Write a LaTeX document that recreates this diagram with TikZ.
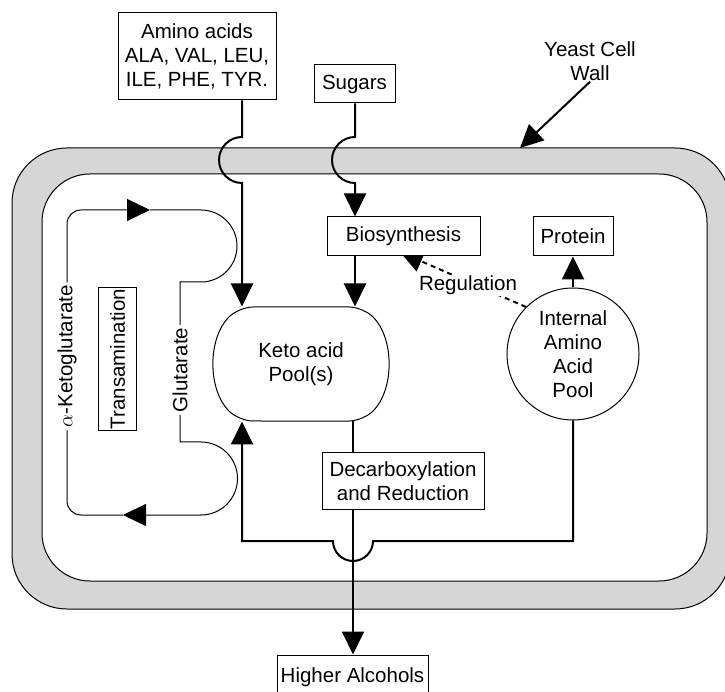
\documentclass[tikz,border=0pt]{standalone}
\usepackage{fontspec}
\setmainfont{Liberation Sans}
\usetikzlibrary{positioning, arrows.meta, shapes.misc, calc}
\definecolor{wallgray}{RGB}{214,214,214}

\begin{document}
\begin{tikzpicture}[x=1pt, y=1pt,
    every node/.style={font=\fontsize{20.5}{24}\selectfont},
    >={Triangle[length=23pt, width=22pt]},
    box/.style={rectangle, draw, line width=1pt, fill=white, align=center, inner sep=2pt},
    keto/.style={rounded rectangle, rounded rectangle arc length=90, rounded corners=14, draw, line width=1pt, fill=white, align=center, minimum width=178, minimum height=114},
    aapool/.style={circle, draw, line width=1pt, fill=white, align=center, minimum size=132, inner sep=0pt},
    wall/.style={draw, line width=1pt},
    flow/.style={line width=2pt},
    cycle/.style={line width=1pt},
    reg/.style={line width=2pt, dash pattern=on 5pt off 4pt},
    lbl/.style={fill=white, inner sep=3pt}]

  \useasboundingbox (0,0) rectangle (725,691);

  \def\yJump{554}
  \def\yBack{150}
  \def\yTop{481}
  \def\yBot{176}

  \draw[wall, fill=wallgray, rounded corners=55] (12,82) rectangle (730,543);
  \draw[wall, fill=white, rounded corners=48] (42,110) rectangle (707,517);

  \node[box, minimum width=158, minimum height=87] (amino) at (197,634.5) {Amino acids\\ALA, VAL, LEU,\\ILE, PHE, TYR.};
  \node[box, minimum width=81, minimum height=38] (sugars) at (354.5,607) {Sugars};
  \node[align=center, inner sep=1pt] (yeast) at (590,630) {Yeast Cell\\Wall};

  \node[keto] (keto) at (301,327) {Keto acid\\Pool(s)};
  \node[aapool] (pool) at (573,337) {Internal\\Amino\\Acid\\Pool};
  \node[box, minimum width=80, minimum height=39] (protein) at (573,454.5) {Protein};
  \node[box, minimum width=162, minimum height=56] (decarb) at (403,210) {Decarboxylation\\and Reduction};
  \node[box, minimum width=151, minimum height=44] (alc) at (352.5,14) {Higher Alcohols};
  \node[box, rotate=90, minimum height=38, inner xsep=1pt] (transam) at (117.5,332) {Transamination};

  \coordinate (walltip) at (520,543);
  \coordinate (regtip) at (400,439);
  \coordinate (jumpA) at (242,\yJump);
  \coordinate (jumpS) at (355,\yJump);
  \coordinate (jumpD) at (373,\yBack);
  \coordinate (dc) at (353,0);
  \coordinate (kgtop) at (150,\yTop);
  \coordinate (kgbot) at (123,\yBot);

  \draw[reg, ->] (pool.135) -- node[lbl, pos=0.46, inner sep=1pt, yshift=-4pt, solid] {Regulation} (regtip);
  \node[box, minimum width=153, minimum height=39] (bio) at (403.5,454.5) {Biosynthesis};

  \draw[flow, ->] (amino.south -| jumpA) -- (jumpA) arc[start angle=90, end angle=270, radius=23] -- (jumpA |- keto.north);
  \draw[flow, ->] (sugars.south -| jumpS) -- (jumpS) arc[start angle=90, end angle=270, radius=23] -- (jumpS |- bio.north);
  \draw[flow, ->] (jumpS |- bio.south) -- (jumpS |- keto.north);
  \draw[flow, ->] (pool.north) -- (protein.south);
  \draw[flow, ->] (pool.south) |- (jumpD) arc[start angle=0, end angle=-180, radius=20] -- (jumpA |- jumpD) -- (jumpA |- keto.south);
  \draw[flow] (dc |- keto.south) -- (dc |- decarb.north);
  \draw[flow, ->] (dc |- decarb.south) -- (dc |- alc.north);
  \draw[flow, ->] (yeast.south) -- (walltip);

  \draw[cycle, ->, rounded corners=14] (kgbot) -- (67,\yBot) -- node[lbl, rotate=90, pos=0.52] {$\alpha$-Ketoglutarate} (67,\yTop) -- (kgtop);
  \draw[cycle, ->] (kgtop) -- (201,\yTop) arc[start angle=90, end angle=-90, radius=36] -- (180,409) -- node[lbl, rotate=90, pos=0.55] {Glutarate} (180,249) -- (201,249) arc[start angle=90, end angle=-90, radius=36.5] -- (kgbot);
\end{tikzpicture}
\end{document}
